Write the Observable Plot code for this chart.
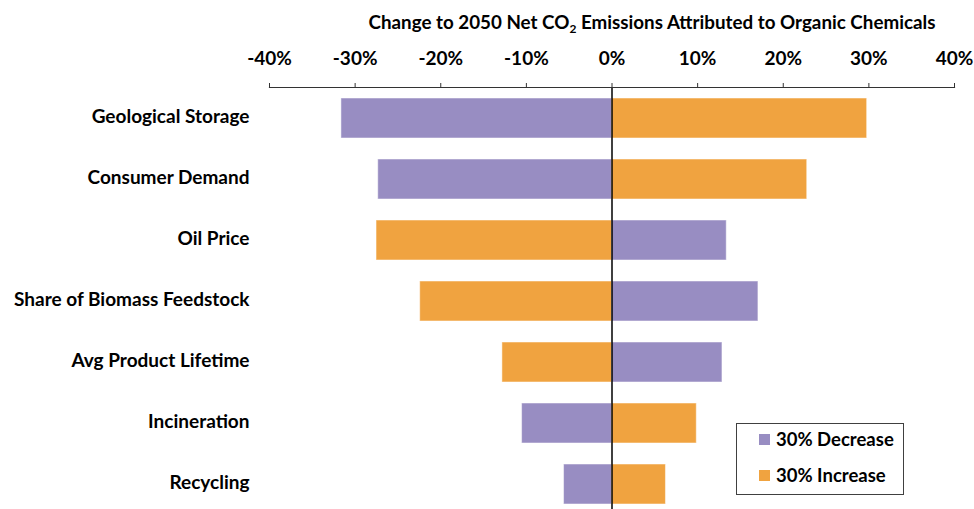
<!DOCTYPE html>
<html>
<head>
<meta charset="utf-8">
<script src="https://cdn.jsdelivr.net/npm/d3@7"></script>
<script src="https://cdn.jsdelivr.net/npm/@observablehq/plot@0.6"></script>
<style>
  html, body { margin: 0; padding: 0; background: #fff; }
  #wrap { position: relative; width: 974px; height: 509px; overflow: hidden; font-family: Lato, "Open Sans", sans-serif; }
  #title { position: absolute; left: 352px; top: 10px; width: 600px; text-align: center; font-weight: 700; font-size: 18.8px; color: #000; white-space: nowrap; }
  #title sub { font-size: 12px; vertical-align: -4px; line-height: 0; }
  #legend { position: absolute; left: 736px; top: 423px; width: 166px; height: 70px; border: 1.5px solid #404040; box-sizing: content-box; font-weight: 700; font-size: 18.5px; color: #000; }
  .item { position: absolute; left: 22px; display: flex; align-items: center; white-space: nowrap; }
  .sw { width: 11px; height: 11px; margin-right: 6px; }
</style>
</head>
<body>
<div id="wrap">
  <div id="chart"></div>
  <div id="title">Change to 2050 Net CO<sub>2</sub> Emissions Attributed to Organic Chemicals</div>
  <div id="legend"></div>
</div>
<script>
const categories = ["Geological Storage", "Consumer Demand", "Oil Price", "Share of Biomass Feedstock", "Avg Product Lifetime", "Incineration", "Recycling"];
const decreaseValues = [-31.6, -27.3, 13.4, 17.1, 12.9, -10.5, -5.6];
const increaseValues = [29.8, 22.8, -27.5, -22.4, -12.8, 9.9, 6.3];
const seriesNames = ["30% Decrease", "30% Increase"];
const seriesColors = ["#988DC2", "#F0A340"];
const xTicks = [-40, -30, -20, -10, 0, 10, 20, 30, 40];

const rows = [];
categories.forEach((c, i) => {
  rows.push({category: c, series: seriesNames[0], value: decreaseValues[i]});
  rows.push({category: c, series: seriesNames[1], value: increaseValues[i]});
});

const chart = Plot.plot({
  width: 974,
  height: 509,
  marginTop: 87,
  marginBottom: 0,
  marginLeft: 269,
  marginRight: 20,
  style: {fontFamily: "Lato, 'Open Sans', sans-serif", fontSize: "19px", fontWeight: "bold", color: "#000", background: "#fff"},
  x: {domain: [-40, 40]},
  y: {domain: categories, range: [86, 516], paddingInner: 0.337, paddingOuter: 0.168},
  color: {domain: seriesNames, range: seriesColors},
  marks: [
    Plot.barX(rows, {y: "category", x1: 0, x2: "value", fill: "series", stroke: "#fff", strokeOpacity: 0.5, strokeWidth: 1}),
    Plot.ruleX([0], {stroke: "#000", strokeWidth: 1.5}),
    Plot.frame({anchor: "top", stroke: "#333", strokeWidth: 1.2}),
    Plot.axisX({anchor: "top", ticks: xTicks, tickFormat: d => `${d}%`, tickSize: 5, tickPadding: 18, stroke: "#333", label: null, fontSize: 19}),
    Plot.axisY({anchor: "left", tickSize: 0, tickPadding: 20, dy: -2, label: null, fontSize: 19})
  ]
});
document.getElementById("chart").appendChild(chart);

const legend = document.getElementById("legend");
seriesNames.forEach((s, i) => {
  const item = document.createElement("div");
  item.className = "item";
  item.style.top = (i === 0 ? 4 : 40) + "px";
  item.innerHTML = `<span class="sw" style="background:${seriesColors[i]}"></span><span>${s}</span>`;
  legend.appendChild(item);
});
</script>
</body>
</html>
